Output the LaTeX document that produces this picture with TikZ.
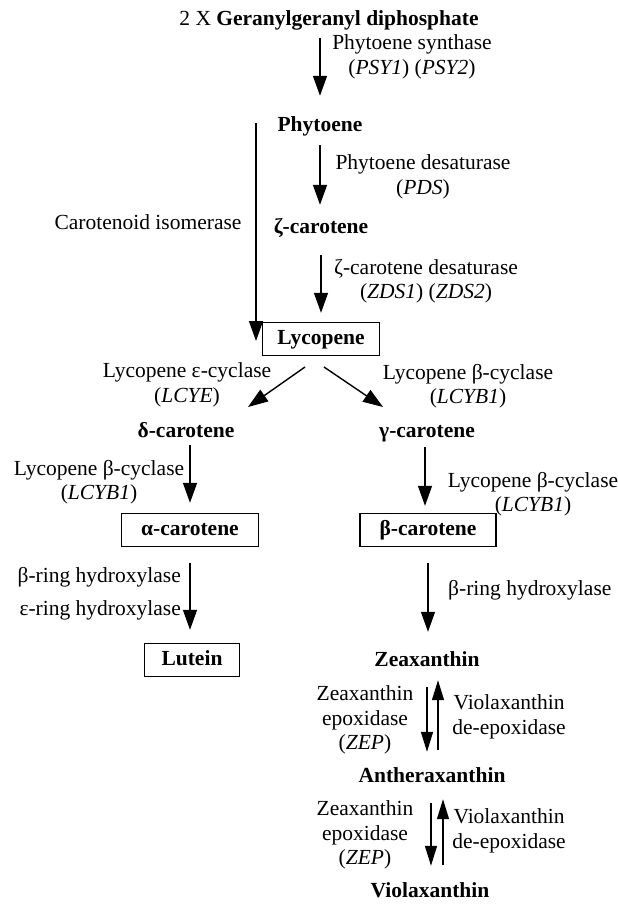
\documentclass[tikz,border=0pt]{standalone}
\usepackage{fontspec}
\setmainfont{Liberation Serif}
\usetikzlibrary{arrows.meta,calc}
\tikzset{
  txt/.style={font=\fontsize{21.5bp}{24.5bp}\selectfont, inner sep=0pt, text height=15bp, text depth=5bp},
  cmpd/.style={txt, font=\fontsize{21.5bp}{24.5bp}\selectfont\bfseries},
  lab/.style={font=\fontsize{21.5bp}{24.5bp}\selectfont, inner sep=0pt, align=center},
  boxed/.style={cmpd, draw, line width=1.4bp, minimum height=33bp},
  arr/.style={line width=1.4bp, -{Triangle[length=20bp,width=14bp]}},
  arrs/.style={line width=1.4bp, -{Triangle[length=20bp,width=12bp]}}
}
\begin{document}
\begin{tikzpicture}[x=1bp,y=-1bp]
\useasboundingbox (0,0) rectangle (618,906);
% compounds
\node[txt] (ggpp) at (329,20) {2 X \textbf{Geranylgeranyl diphosphate}};
\node[cmpd] (phyt) at (320,126) {Phytoene};
\node[cmpd] (zcar) at (321,228) {ζ-carotene};
\node[boxed, minimum width=117bp] (lyc) at (321,339) {Lycopene};
\node[cmpd] (dcar) at (186,432) {δ-carotene};
\node[cmpd] (gcar) at (427,432) {γ-carotene};
\node[boxed, minimum width=137bp] (acar) at (190,530) {α-carotene};
\node[boxed, minimum width=136bp] (bcar) at (428,530) {β-carotene};
\node[boxed, minimum width=95bp] (lut) at (192,660) {Lutein};
\node[cmpd] (zea) at (427,661) {Zeaxanthin};
\node[cmpd] (anth) at (432,777) {Antheraxanthin};
\node[cmpd] (viol) at (430,892) {Violaxanthin};
% enzyme labels
\node[lab] (psy) at (412,57) {Phytoene synthase\\(\textit{PSY1}) (\textit{PSY2})};
\node[lab] (pds) at (423,177) {Phytoene desaturase\\(\textit{PDS})};
\node[lab] (iso) at (148,222) {Carotenoid isomerase};
\node[lab] (zds) at (426,281) {ζ-carotene desaturase\\(\textit{ZDS1}) (\textit{ZDS2})};
\node[lab] (lcye) at (187,385) {Lycopene ε-cyclase\\(\textit{LCYE})};
\node[lab] (lcyb) at (468,386) {Lycopene β-cyclase\\(\textit{LCYB1})};
\node[lab] (lcybl) at (99,482) {Lycopene β-cyclase\\(\textit{LCYB1})};
\node[lab] (lcybr) at (533,494) {Lycopene β-cyclase\\(\textit{LCYB1})};
\node[lab, anchor=east] (bhl) at (181,577) {β-ring hydroxylase};
\node[lab, anchor=east] (ehl) at (181,610) {ε-ring hydroxylase};
\node[lab, anchor=west] (bhr) at (448,590) {β-ring hydroxylase};
\node[lab] (zep1) at (365,720) {Zeaxanthin\\epoxidase\\(\textit{ZEP})};
\node[lab] (vde1) at (509,717) {Violaxanthin\\de-epoxidase};
\node[lab] (zep2) at (365,835) {Zeaxanthin\\epoxidase\\(\textit{ZEP})};
\node[lab] (vde2) at (509,831) {Violaxanthin\\de-epoxidase};
% free ends
\coordinate (isoS) at (256,123);
\coordinate (isoE) at (256,341);
\coordinate (dlS) at (305,367);
\coordinate (dlE) at (248,407);
\coordinate (drS) at (324,367);
\coordinate (drE) at (383,407);
% connectors
\draw[arr, shorten <=8bp, shorten >=20bp] (phyt.north |- ggpp.south) -- (phyt.north);
\draw[arr, shorten <=9bp, shorten >=13bp] (phyt.south) -- (phyt.south |- zcar.north);
\draw[arr, shorten <=17bp, shorten >=9bp] (zcar.south) -- (zcar.south |- lyc.north);
\draw[arr] (isoS) -- (isoE);
\draw[arr] (dlS) -- (dlE);
\draw[arr] (drS) -- (drE);
\draw[arr, shorten <=3bp, shorten >=10bp] (acar.north |- dcar.south) -- (acar.north);
\draw[arr, shorten <=5bp, shorten >=7bp] ($(bcar.north |- gcar.south)+(-3,0)$) -- ($(bcar.north)+(-3,0)$);
\draw[arr, shorten <=16bp, shorten >=13bp] (acar.south) -- (acar.south |- lut.north);
\draw[arr, shorten <=16bp, shorten >=19bp] (bcar.south) -- (bcar.south |- zea.north);
\draw[arrs, shorten <=16bp, shorten >=15bp] (zea.south) -- (zea.south |- anth.north);
\draw[arrs, shorten <=17bp, shorten >=9bp] ($(zea.south |- anth.north)+(11,0)$) -- ($(zea.south)+(11,0)$);
\draw[arrs, shorten <=16bp, shorten >=16bp] ($(anth.south)+(-1,0)$) -- ($(anth.south |- viol.north)+(-1,0)$);
\draw[arrs, shorten <=17bp, shorten >=12bp] ($(anth.south |- viol.north)+(11,0)$) -- ($(anth.south)+(11,0)$);
\end{tikzpicture}
\end{document}
